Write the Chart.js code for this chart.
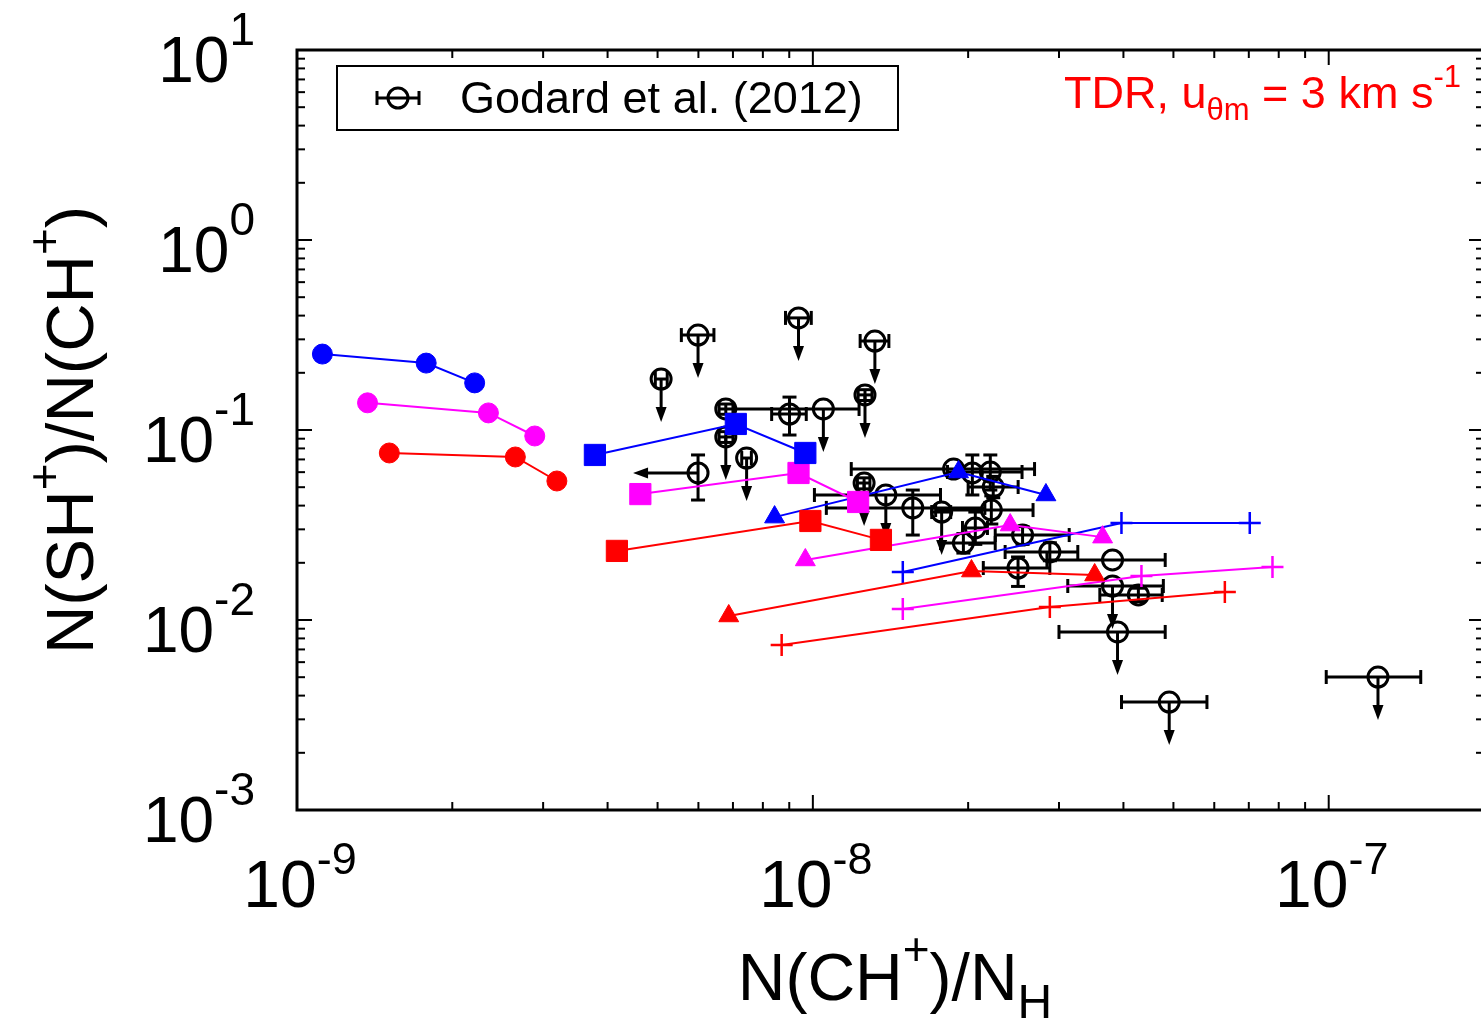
<!DOCTYPE html>
<html>
<head>
<meta charset="utf-8">
<script src="https://cdn.jsdelivr.net/npm/chart.js@4.4.0/dist/chart.umd.min.js"></script>
<style>
  html, body { margin: 0; padding: 0; background: #fff; overflow: hidden; }
  #wrap { position: relative; width: 1500px; height: 1021px; }
</style>
</head>
<body>
<div id="wrap"><canvas id="chart" width="1500" height="1021"></canvas></div>
<script>
// ===== Data =====
const seriesColors = ['#0000ff', '#ff00ff', '#ff0000'];

// model tracks, one row per colour (blue, magenta, red)
const circleX = [[1.12e-9, 1.78e-9, 2.21e-9], [1.37e-9, 2.35e-9, 2.89e-9], [1.51e-9, 2.65e-9, 3.19e-9]];
const circleY = [[0.251, 0.225, 0.177], [0.139, 0.123, 0.093], [0.0757, 0.0721, 0.0539]];
const squareX = [[3.78e-9, 7.09e-9, 9.67e-9], [4.63e-9, 9.38e-9, 1.224e-8], [4.17e-9, 9.89e-9, 1.355e-8]];
const squareY = [[0.0739, 0.1076, 0.0757], [0.046, 0.0594, 0.0418], [0.0231, 0.0332, 0.0264]];
const triangleX = [[8.43e-9, 1.916e-8, 2.83e-8], [9.67e-9, 2.413e-8, 3.645e-8], [6.87e-9, 2.03e-8, 3.518e-8]];
const triangleY = [[0.0348, 0.0601, 0.0455], [0.0207, 0.0316, 0.0273], [0.0105, 0.0181, 0.01725]];
const plusX = [[1.494e-8, 3.965e-8, 7.03e-8], [1.494e-8, 4.335e-8, 7.78e-8], [8.7e-9, 2.88e-8, 6.29e-8]];
const plusY = [[0.0179, 0.0324, 0.0324], [0.01143, 0.01705, 0.019], [0.00739, 0.0117, 0.01404]];

// Godard et al. (2012) observations
const obsX    = [5.08e-9, 5.99e-9, 9.38e-9, 1.319e-8, 1.262e-8, 6.78e-9, 6.78e-9, 9.01e-9, 1.048e-8, 5.99e-9,
                 7.44e-9, 1.257e-8, 1.385e-8, 1.562e-8, 1.777e-8, 1.874e-8, 2.038e-8, 2.208e-8, 2.237e-8, 2.218e-8,
                 2.065e-8, 1.958e-8, 2.55e-8, 2.88e-8, 2.499e-8, 3.81e-8, 3.81e-8, 4.276e-8, 3.896e-8, 4.907e-8, 1.246e-7];
const obsY    = [0.1855, 0.316, 0.389, 0.294, 0.153, 0.129, 0.0919, 0.1214, 0.129, 0.0594,
                 0.0712, 0.0526, 0.0455, 0.0389, 0.037, 0.0623, 0.0594, 0.0601, 0.0501, 0.0379,
                 0.0305, 0.0254, 0.028, 0.0228, 0.01878, 0.0207, 0.0151, 0.01354, 0.00865, 0.0037, 0.00501];
const obsXLo  = [4.95e-9, 5.56e-9, 8.85e-9, 1.235e-8, 1.224e-8, 6.58e-9, 6.58e-9, 8.32e-9, 7.02e-9, null,
                 7.28e-9, 1.22e-8, 1.007e-8, 1.062e-8, 1.7e-8, 1.187e-8, null, 1.824e-8, 2.0e-8, 1.73e-8,
                 1.95e-8, 1.768e-8, 2.257e-8, 2.359e-8, 2.14e-8, 2.843e-8, 3.12e-8, 3.6e-8, 3.0e-8, 3.966e-8, 9.89e-8];
const obsXHi  = [5.22e-9, 6.43e-9, 9.93e-9, 1.404e-8, 1.302e-8, 7.0e-9, 7.0e-9, 9.71e-9, 1.229e-8, null,
                 7.6e-9, 1.29e-8, 1.768e-8, 2.155e-8, 1.85e-8, 2.69e-8, null, 2.544e-8, 2.5e-8, 2.672e-8,
                 2.18e-8, 2.257e-8, 3.14e-8, 3.263e-8, 2.88e-8, 4.82e-8, 4.78e-8, 4.756e-8, 4.82e-8, 5.807e-8, 1.508e-7];
const obsYLo  = [null, null, null, null, 0.143, 0.121, 0.086, 0.0941, null, 0.0428,
                 null, 0.049, null, 0.028, null, null, 0.0455, 0.0483, 0.044, 0.032,
                 0.025, 0.0225, 0.025, 0.0205, 0.01502, null, null, 0.0125, null, null, null];
const obsYHi  = [null, null, null, null, 0.163, 0.137, 0.098, 0.149, null, 0.0739,
                 null, 0.056, null, 0.0483, null, null, 0.0739, 0.0739, 0.057, 0.045,
                 0.037, 0.0285, 0.031, 0.0255, 0.02146, null, null, 0.0147, null, null, null];
const obsUpper = [1, 1, 1, 1, 1, 0, 1, 0, 1, 0,
                  1, 1, 1, 0, 1, 0, 0, 0, 0, 0,
                  0, 0, 0, 0, 0, 0, 1, 0, 1, 1, 1];
const obsLeft  = [0, 0, 0, 0, 0, 0, 0, 0, 0, 1,
                  0, 0, 0, 0, 0, 0, 0, 0, 0, 0,
                  0, 0, 0, 0, 0, 0, 0, 0, 0, 0, 0];

// axes
const xDecades = [1e-9, 1e-8, 1e-7];
const xExps = ['-9', '-8', '-7'];
const yDecades = [1e-3, 1e-2, 1e-1, 1, 10];
const yExps = ['-3', '-2', '-1', '0', '1'];
const X_MIN = 1e-9, X_MAX = 2e-7, Y_MIN = 1e-3, Y_MAX = 10;

const FONT = '"Liberation Sans", Arial, Helvetica, sans-serif';

// ===== helpers =====
function richWidth(ctx, parts) {
    let w = 0;
    parts.forEach(p => { ctx.font = `${p.size}px ${FONT}`; w += ctx.measureText(p.text).width; });
    return w;
}
function richText(ctx, parts, x, y, align) {
    const w = richWidth(ctx, parts);
    let cx = align === 'center' ? x - w / 2 : align === 'right' ? x - w : x;
    ctx.textAlign = 'left';
    ctx.textBaseline = 'alphabetic';
    parts.forEach(p => {
        ctx.font = `${p.size}px ${FONT}`;
        ctx.fillText(p.text, cx, y + (p.dy || 0));
        cx += ctx.measureText(p.text).width;
    });
}
function seg(ctx, x1, y1, x2, y2) {
    ctx.beginPath(); ctx.moveTo(x1, y1); ctx.lineTo(x2, y2); ctx.stroke();
}
function minorValues(decades, max) {
    const out = [];
    decades.forEach(d => { for (let k = 1; k < 10; k++) if (d * k <= max * 1.0001) out.push(d * k); });
    return out;
}

// ===== Datasets =====
const markerSets = [
    { xs: circleX, ys: circleY, style: 'circle', r: 10 },
    { xs: squareX, ys: squareY, style: 'rect', r: 15 },
    { xs: triangleX, ys: triangleY, style: 'triangle', r: 11.5 },
    { xs: plusX, ys: plusY, style: 'cross', r: 11 }
];
const datasets = [];
markerSets.forEach(set => {
    seriesColors.forEach((col, c) => {
        datasets.push({
            data: set.xs[c].map((v, i) => ({ x: v, y: set.ys[c][i] })),
            showLine: true,
            borderColor: col,
            backgroundColor: col,
            borderWidth: 2,
            pointStyle: set.style,
            pointRadius: set.r,
            pointBorderWidth: set.style === 'cross' ? 2.5 : 1,
            pointBorderColor: col,
            pointBackgroundColor: col,
            order: 1
        });
    });
});
datasets.push({
    data: obsX.map((v, i) => ({ x: v, y: obsY[i] })),
    showLine: false,
    pointStyle: 'circle',
    pointRadius: 10,
    pointBorderWidth: 3,
    pointBorderColor: '#000',
    pointBackgroundColor: 'rgba(0,0,0,0)',
    order: 10
});

// ===== Plugins =====
const obsBars = {
    id: 'obsBars',
    beforeDatasetsDraw(chart) {
        const { ctx, scales: { x, y } } = chart;
        ctx.save();
        ctx.strokeStyle = '#000';
        ctx.fillStyle = '#000';
        ctx.lineWidth = 3;
        obsX.forEach((xv, i) => {
            const px = x.getPixelForValue(xv), py = y.getPixelForValue(obsY[i]);
            if (obsXLo[i] !== null) {
                const a = x.getPixelForValue(obsXLo[i]), b = x.getPixelForValue(obsXHi[i]);
                seg(ctx, a, py, b, py); seg(ctx, a, py - 7, a, py + 7); seg(ctx, b, py - 7, b, py + 7);
            }
            if (obsYLo[i] !== null) {
                const a = y.getPixelForValue(obsYLo[i]), b = y.getPixelForValue(obsYHi[i]);
                seg(ctx, px, a, px, b); seg(ctx, px - 7, a, px + 7, a); seg(ctx, px - 7, b, px + 7, b);
            }
            if (obsUpper[i]) {
                seg(ctx, px, py, px, py + 30);
                ctx.beginPath(); ctx.moveTo(px - 5.5, py + 28); ctx.lineTo(px + 5.5, py + 28); ctx.lineTo(px, py + 43); ctx.closePath(); ctx.fill();
            }
            if (obsLeft[i]) {
                seg(ctx, px, py, px - 52, py);
                ctx.beginPath(); ctx.moveTo(px - 50, py - 5.5); ctx.lineTo(px - 50, py + 5.5); ctx.lineTo(px - 65, py); ctx.closePath(); ctx.fill();
            }
        });
        ctx.restore();
    }
};

const frame = {
    id: 'frame',
    afterDraw(chart) {
        const { ctx, chartArea: a, scales: { x, y } } = chart;
        ctx.save();
        ctx.strokeStyle = '#000';
        ctx.fillStyle = '#000';
        ctx.lineWidth = 2;
        // ticks
        minorValues(xDecades, X_MAX).forEach(v => {
            const px = x.getPixelForValue(v);
            const len = xDecades.some(d => Math.abs(d - v) / d < 1e-6) ? 15 : 8;
            seg(ctx, px, a.bottom, px, a.bottom - len);
            seg(ctx, px, a.top, px, a.top + len);
        });
        minorValues(yDecades, Y_MAX).forEach(v => {
            const py = y.getPixelForValue(v);
            const len = yDecades.some(d => Math.abs(d - v) / d < 1e-6) ? 15 : 8;
            seg(ctx, a.left, py, a.left + len, py);
            seg(ctx, a.right, py, a.right - len, py);
        });
        ctx.lineWidth = 3;
        ctx.strokeRect(a.left, a.top, a.right - a.left, a.bottom - a.top);

        // tick labels
        xDecades.forEach((d, i) => {
            const px = x.getPixelForValue(d);
            richText(ctx, [{ text: '10', size: 66 }, { text: xExps[i], size: 45, dy: -33 }], px + 3, 907, 'center');
        });
        yDecades.forEach((d, i) => {
            const py = y.getPixelForValue(d);
            richText(ctx, [{ text: '10', size: 64 }, { text: yExps[i], size: 46, dy: -37 }], 255, py + 32, 'right');
        });

        // axis titles
        richText(ctx, [{ text: 'N(CH', size: 66 }, { text: '+', size: 46, dy: -35 }, { text: ')/N', size: 66 },
            { text: 'H', size: 48, dy: 18 }], 895, 1000, 'center');
        ctx.save();
        ctx.translate(93, 430);
        ctx.rotate(-Math.PI / 2);
        richText(ctx, [{ text: 'N(SH', size: 67 }, { text: '+', size: 46, dy: -33 }, { text: ')/N(CH', size: 67 },
            { text: '+', size: 46, dy: -33 }, { text: ')', size: 67 }], 0, 0, 'center');
        ctx.restore();

        // legend box
        ctx.lineWidth = 2;
        ctx.strokeRect(337, 66, 561, 64);
        ctx.lineWidth = 3;
        seg(ctx, 377, 98, 419, 98); seg(ctx, 377, 91, 377, 105); seg(ctx, 419, 91, 419, 105);
        ctx.beginPath(); ctx.arc(398, 98, 10, 0, Math.PI * 2); ctx.stroke();
        richText(ctx, [{ text: 'Godard et al. (2012)', size: 45 }], 460, 113, 'left');

        // model label
        ctx.fillStyle = '#ff0000';
        richText(ctx, [{ text: 'TDR, u', size: 45 }, { text: 'θm', size: 31, dy: 12 }, { text: ' = 3 km s', size: 45 },
            { text: '-1', size: 31, dy: -21 }], 1064, 108, 'left');
        ctx.restore();
    }
};

// ===== Chart =====
new Chart(document.getElementById('chart').getContext('2d'), {
    type: 'scatter',
    data: { datasets },
    options: {
        responsive: false,
        animation: false,
        events: [],
        layout: { padding: { left: 297, top: 50, right: 10, bottom: 211 } },
        scales: {
            x: { type: 'logarithmic', min: X_MIN, max: X_MAX, display: false },
            y: { type: 'logarithmic', min: Y_MIN, max: Y_MAX, display: false }
        },
        plugins: { legend: { display: false }, tooltip: { enabled: false } }
    },
    plugins: [obsBars, frame]
});
</script>
</body>
</html>
